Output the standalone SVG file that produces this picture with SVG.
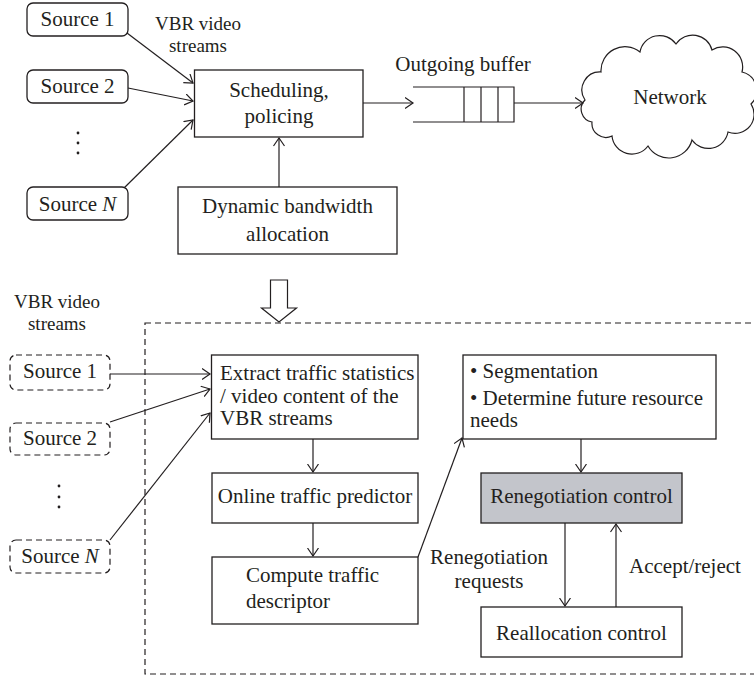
<svg xmlns="http://www.w3.org/2000/svg" width="754" height="676" viewBox="0 0 754 676">
<defs>
<marker id="ah" markerUnits="userSpaceOnUse" markerWidth="12" markerHeight="14" refX="8.5" refY="6" orient="auto">
<path d="M0.5,0.5 L8.5,6 L0.5,11.5" fill="none" stroke="#231f20" stroke-width="1.2"/>
</marker>
<style>
text{font-family:"Liberation Serif","Times New Roman",serif;font-size:21px;fill:#231f20}
.c{text-anchor:middle}
.sm{font-size:19px}
.box{fill:#fff;stroke:#231f20;stroke-width:1.3}
.rbox{fill:#fff;stroke:#231f20;stroke-width:1.3}
.dbox{fill:#fff;stroke:#231f20;stroke-width:1.2;stroke-dasharray:6 4}
.ln{fill:none;stroke:#231f20;stroke-width:1.2}
.arr{fill:none;stroke:#231f20;stroke-width:1.2;marker-end:url(#ah)}
.dot{fill:#231f20}
</style>
</defs>
<g id="container">
<rect x="145" y="323" width="640" height="351" fill="none" stroke="#231f20" stroke-width="1.2" stroke-dasharray="6 4"/>
</g>
<g id="labels">
<text class="c sm" x="198" y="30">VBR video</text>
<text class="c sm" x="198" y="51.5">streams</text>
<text class="c" x="463" y="71">Outgoing buffer</text>
<text class="c sm" x="57" y="308">VBR video</text>
<text class="c sm" x="57" y="329.5">streams</text>
<text class="c" x="489" y="564">Renegotiation</text>
<text class="c" x="489" y="588">requests</text>
<text x="629" y="573">Accept/reject</text>
<circle class="dot" cx="78" cy="133" r="1.4"/><circle class="dot" cx="78" cy="143" r="1.4"/><circle class="dot" cx="78" cy="153" r="1.4"/>
<circle class="dot" cx="59" cy="486" r="1.4"/><circle class="dot" cx="59" cy="497" r="1.4"/><circle class="dot" cx="59" cy="507" r="1.4"/>
</g>
<g id="connectors">
<line class="arr" x1="127" y1="33" x2="193" y2="83"/>
<line class="arr" x1="128" y1="88" x2="193" y2="101"/>
<line class="arr" x1="123" y1="189" x2="193" y2="120"/>
<line class="arr" x1="279" y1="187" x2="279" y2="138"/>
<line class="arr" x1="363" y1="103" x2="413" y2="103"/>
<line class="arr" x1="514" y1="103" x2="583" y2="103"/>
<line class="arr" x1="110" y1="374" x2="210" y2="374"/>
<line class="arr" x1="110" y1="422" x2="210" y2="389"/>
<line class="arr" x1="110" y1="540" x2="210" y2="413"/>
<line class="arr" x1="313" y1="439" x2="313" y2="472"/>
<line class="arr" x1="313" y1="523" x2="313" y2="556"/>
<line class="arr" x1="418" y1="557" x2="462" y2="438"/>
<line class="arr" x1="581" y1="439" x2="581" y2="472"/>
<line class="arr" x1="565" y1="523" x2="565" y2="606"/>
<line class="arr" x1="616" y1="607" x2="616" y2="524"/>
<polygon points="270.5,280 287.5,280 287.5,308 296.5,308 279,322 261.5,308 270.5,308" fill="#fff" stroke="#231f20" stroke-width="1.2"/>
</g>
<g id="source1">
<rect class="rbox" x="27" y="3" width="101" height="33" rx="6"/>
<text class="c" x="77.5" y="26">Source 1</text>
</g>
<g id="source2">
<rect class="rbox" x="27" y="70" width="101" height="33" rx="6"/>
<text class="c" x="77.5" y="93">Source 2</text>
</g>
<g id="sourceN">
<rect class="rbox" x="27" y="187" width="101" height="33" rx="6"/>
<text class="c" x="77.5" y="211">Source <tspan font-style="italic">N</tspan></text>
</g>
<g id="scheduling">
<rect class="box" x="194.5" y="70" width="168.5" height="67"/>
<text class="c" x="279" y="97">Scheduling,</text>
<text class="c" x="279" y="123">policing</text>
</g>
<g id="dynamic">
<rect class="box" x="178" y="187" width="219" height="67"/>
<text class="c" x="287.5" y="213">Dynamic bandwidth</text>
<text class="c" x="287.5" y="241">allocation</text>
</g>
<g id="buffer">
<path class="ln" d="M413,87 H514 V122 H413 M464,87 V122 M481,87 V122 M498,87 V122"/>
</g>
<g id="network">
<path class="ln" d="M585,100 A18,18 0 0 1 601,72 A24,24 0 0 1 640,52 A20,20 0 0 1 676,44 A20,20 0 0 1 712,50 A20,20 0 0 1 742,72 A19,19 0 0 1 751,104 A19,19 0 0 1 728,132 A20,20 0 0 1 692,140 A24,24 0 0 1 648,146 A20,20 0 0 1 612,136 A14,14 0 0 1 592,122 A13,13 0 0 1 585,100 Z" fill="#fff"/>
<text class="c" x="670" y="104">Network</text>
</g>
<g id="dsource1">
<rect class="dbox" x="10" y="355" width="100" height="35" rx="6"/>
<text class="c" x="60" y="378">Source 1</text>
</g>
<g id="dsource2">
<rect class="dbox" x="10" y="423" width="100" height="32" rx="6"/>
<text class="c" x="60" y="445">Source 2</text>
</g>
<g id="dsourceN">
<rect class="dbox" x="10" y="540" width="100" height="33" rx="6"/>
<text class="c" x="60" y="563">Source <tspan font-style="italic">N</tspan></text>
</g>
<g id="extract">
<rect class="box" x="211.5" y="355" width="206.5" height="84"/>
<text x="220" y="380">Extract traffic statistics</text>
<text x="220" y="403">/ video content of the</text>
<text x="220" y="425">VBR streams</text>
</g>
<g id="online">
<rect class="box" x="212" y="473" width="206" height="50"/>
<text class="c" x="315" y="503">Online traffic predictor</text>
</g>
<g id="compute">
<rect class="box" x="212" y="557" width="206" height="67"/>
<text x="246" y="582">Compute traffic</text>
<text x="246" y="608">descriptor</text>
</g>
<g id="segmentation">
<rect class="box" x="463" y="355" width="253" height="84"/>
<text x="470" y="378">• Segmentation</text>
<text x="470" y="405">• Determine future resource</text>
<text x="470" y="427">needs</text>
</g>
<g id="renegotiation">
<rect x="481" y="473" width="201" height="50" fill="#c3c5cb" stroke="#231f20" stroke-width="1.3"/>
<text class="c" x="581.5" y="503">Renegotiation control</text>
</g>
<g id="reallocation">
<rect class="box" x="481" y="607" width="201" height="50"/>
<text class="c" x="581.5" y="640">Reallocation control</text>
</g>
</svg>
